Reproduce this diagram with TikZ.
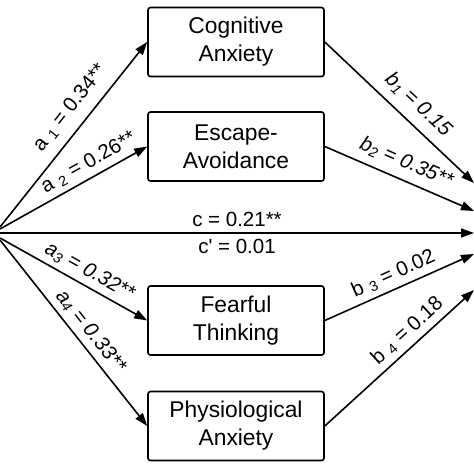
\documentclass[tikz,border=0pt]{standalone}
\usepackage{fontspec}
\setmainfont{Liberation Sans}
\usetikzlibrary{arrows.meta,positioning}

\begin{document}
\begin{tikzpicture}[x=1pt,y=-1pt,
	box/.style={draw, line width=1.6pt, rounded corners=2.5pt, minimum width=176pt, minimum height=69pt, align=center, font=\fontsize{22.8}{28}\selectfont},
	link/.style={line width=1.6pt, -{Triangle[length=13pt,width=9pt]}},
	coef/.style={font=\fontsize{20.5}{23}\selectfont, sloped, inner sep=5pt}]
	\useasboundingbox (0,0) rectangle (474,474);
	% mediators
	\node[box] (cog) at (236, 42) {Cognitive\\Anxiety};
	\node[box] (esc) at (236, 146.5) {Escape-\\Avoidance};
	\node[box] (fear) at (236, 320.5) {Fearful\\Thinking};
	\node[box] (phys) at (236, 426) {Physiological\\Anxiety};
	%%%%%
	\coordinate (x1) at (0, 227);
	\coordinate (x2) at (0, 229);
	\coordinate (xc) at (0, 233);
	\coordinate (x3) at (0, 238);
	\coordinate (x4) at (0, 240);
	\coordinate (y1) at (474, 183);
	\coordinate (y2) at (474, 211);
	\coordinate (yc) at (474, 233);
	\coordinate (y3) at (474, 254);
	\coordinate (y4) at (474, 290);
	%%%%%
	\draw[link] (x1) -- (cog.west) node[coef, pos=0.58, above=5pt] {a \textsubscript{1} = 0.34**};
	\draw[link] (x2) -- (esc.west) node[coef, pos=0.65, above] {a \textsubscript{2} = 0.26**};
	\draw[link] (x3) -- (fear.west) node[coef, pos=0.56, above] {\itshape a\textsubscript{3} = 0.32**};
	\draw[link] (x4) -- (phys.west) node[coef, pos=0.54, above] {\itshape a\textsubscript{4} = 0.33**};
	\draw[link] (cog.east) -- (y1) node[coef, pos=0.54, above=4pt] {\itshape b\textsubscript{1} = 0.15};
	\draw[link] (esc.east) -- (y2) node[coef, pos=0.5, above=3pt] {\itshape b\textsubscript{2} = 0.35**};
	\draw[link] (fear.east) -- (y3) node[coef, pos=0.5, above] {b \textsubscript{3} = 0.02};
	\draw[link] (phys.east) -- (y4) node[coef, pos=0.62, above] {b \textsubscript{4} = 0.18};
	\draw[link] (xc) -- (yc)
		node[coef, pos=0.5, above=1pt] {c = 0.21**}
		node[coef, pos=0.5, below=0pt] {c\textquotesingle{} = 0.01};
\end{tikzpicture}
\end{document}
